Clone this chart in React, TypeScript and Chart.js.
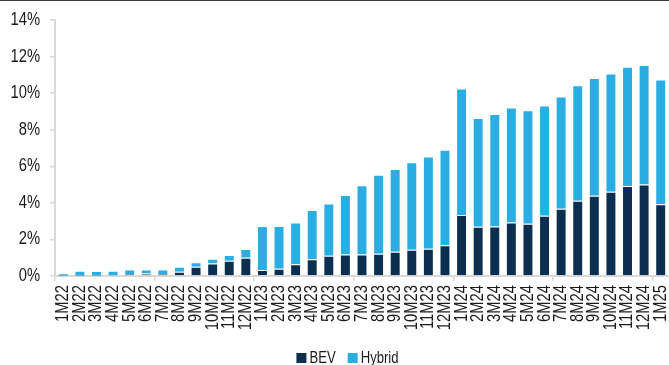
import { useEffect, useRef } from "react";
import { Chart, registerables } from "chart.js";

Chart.register(...registerables);

// Monthly share of new sales, in percent
const months = [
  "1M22", "2M22", "3M22", "4M22", "5M22", "6M22", "7M22", "8M22", "9M22", "10M22", "11M22", "12M22",
  "1M23", "2M23", "3M23", "4M23", "5M23", "6M23", "7M23", "8M23", "9M23", "10M23", "11M23", "12M23",
  "1M24", "2M24", "3M24", "4M24", "5M24", "6M24", "7M24", "8M24", "9M24", "10M24", "11M24", "12M24",
  "1M25",
];

const bevShare = [
  0.02, 0.02, 0.02, 0.03, 0.11, 0.13, 0.11, 0.23, 0.51, 0.69, 0.83, 1.0,
  0.33, 0.4, 0.64, 0.91, 1.11, 1.17, 1.17, 1.22, 1.33, 1.44, 1.49, 1.68,
  3.34, 2.7, 2.71, 2.92, 2.86, 3.3, 3.68, 4.12, 4.39, 4.61, 4.92, 5.01,
  3.92,
];

const hybridShare = [
  0.13, 0.27, 0.25, 0.26, 0.25, 0.23, 0.25, 0.28, 0.24, 0.26, 0.32, 0.48,
  2.4, 2.33, 2.28, 2.7, 2.86, 3.26, 3.79, 4.32, 4.52, 4.78, 5.05, 5.23,
  6.92, 5.94, 6.15, 6.3, 6.2, 6.03, 6.14, 6.31, 6.44, 6.46, 6.53, 6.53,
  6.82,
];

const seriesNames = ["BEV", "Hybrid"];
const seriesColors = ["#0c2e4f", "#2aade3"];

const yMin = 0;
const yMax = 14;
const yStep = 2;

const FONT = '"Liberation Sans", Arial, sans-serif';
const NARROW = 0.82; // horizontal squeeze that gives an Arial-Narrow look
const TEXT = "#1a1a1a";
const AXIS = "#d9d9d9";
const TICK_LEN = 5;
const Y_PAD = 10;
const X_PAD = 4;

// Thin dark rule along the top edge of the canvas
const topRule = {
  id: "topRule",
  afterDraw(chart: any) {
    const { ctx } = chart;
    ctx.save();
    ctx.fillStyle = "#3b3b3b";
    ctx.fillRect(0, 0, chart.width, 1);
    ctx.restore();
  },
};

// Condensed tick labels, placed from the chart's own scales
const narrowTicks = {
  id: "narrowTicks",
  afterDraw(chart: any) {
    const { ctx } = chart;
    const xs = chart.scales.x;
    const ys = chart.scales.y;
    ctx.save();
    ctx.fillStyle = TEXT;
    ctx.font = `18px ${FONT}`;
    ctx.textBaseline = "middle";
    ctx.textAlign = "right";

    ys.ticks.forEach((t: any) => {
      const y = ys.getPixelForValue(t.value);
      ctx.save();
      ctx.translate(ys.right - TICK_LEN - Y_PAD, y);
      ctx.scale(NARROW, 1);
      ctx.fillText(String(t.label), 0, 0);
      ctx.restore();
    });

    xs.ticks.forEach((t: any, i: number) => {
      const x = xs.getPixelForTick(i);
      ctx.save();
      ctx.translate(x, xs.top + TICK_LEN + X_PAD);
      ctx.rotate(-Math.PI / 2);
      ctx.scale(NARROW, 1);
      ctx.fillText(String(t.label), 0, 0);
      ctx.restore();
    });
    ctx.restore();
  },
};

// Bottom legend: square swatch, short gap, label
const bottomLegend = {
  id: "bottomLegend",
  afterDraw(chart: any) {
    const { ctx } = chart;
    const box = 10;
    const gap = 3;
    const spacing = 12;
    ctx.save();
    ctx.font = `16px ${FONT}`;
    const items = chart.data.datasets.map((ds: any) => ({
      text: ds.label as string,
      color: ds.backgroundColor as string,
      tw: ctx.measureText(ds.label).width * NARROW,
    }));
    const total =
      items.reduce((s: number, it: any) => s + box + gap + it.tw, 0) + spacing * (items.length - 1);
    let x = chart.width / 2 - total / 2;
    const boxTop = chart.scales.x.bottom + 21;
    ctx.textBaseline = "alphabetic";
    ctx.textAlign = "left";
    for (const it of items) {
      ctx.fillStyle = it.color;
      ctx.fillRect(x, boxTop, box, box);
      ctx.fillStyle = TEXT;
      ctx.save();
      ctx.translate(x + box + gap, boxTop + box);
      ctx.scale(NARROW, 1);
      ctx.fillText(it.text, 0, 0);
      ctx.restore();
      x += box + gap + it.tw + spacing;
    }
    ctx.restore();
  },
};

export default function App() {
  const canvasRef = useRef<HTMLCanvasElement>(null);

  useEffect(() => {
    const canvas = canvasRef.current;
    if (!canvas) return;
    Chart.defaults.font.family = FONT;

    const chart = new Chart(canvas, {
      type: "bar",
      data: {
        labels: months,
        datasets: [
          {
            label: seriesNames[0],
            data: bevShare,
            backgroundColor: seriesColors[0],
            borderColor: "rgba(255,255,255,0.3)",
            borderWidth: 1,
            barPercentage: 0.66,
            categoryPercentage: 1,
          },
          {
            label: seriesNames[1],
            data: hybridShare,
            backgroundColor: seriesColors[1],
            borderColor: "rgba(255,255,255,0.3)",
            borderWidth: 1,
            barPercentage: 0.66,
            categoryPercentage: 1,
          },
        ],
      },
      options: {
        responsive: false,
        devicePixelRatio: 1,
        animation: false,
        layout: { padding: { top: 20, right: 26, left: 0, bottom: 48 } },
        plugins: {
          legend: { display: false },
          tooltip: { enabled: false },
        },
        scales: {
          x: {
            stacked: true,
            afterFit: (scale: any) => {
              scale.height = 56;
            },
            grid: {
              drawOnChartArea: false,
              drawTicks: true,
              tickLength: TICK_LEN,
              lineWidth: 1.5,
              color: (c: any) => (c.index % 6 === 0 ? AXIS : "rgba(0,0,0,0)"),
            },
            border: { display: true, color: AXIS, width: 2 },
            ticks: {
              display: false,
              autoSkip: false,
              minRotation: 90,
              maxRotation: 90,
            },
          },
          y: {
            stacked: true,
            min: yMin,
            max: yMax,
            afterFit: (scale: any) => {
              scale.width = 55;
            },
            grid: {
              drawOnChartArea: false,
              drawTicks: true,
              tickLength: TICK_LEN,
              lineWidth: 1.5,
              color: AXIS,
            },
            border: { display: true, color: AXIS, width: 2 },
            ticks: {
              display: false,
              stepSize: yStep,
              callback: (v: any) => `${v}%`,
            },
          },
        },
      },
      plugins: [narrowTicks, bottomLegend, topRule],
    });

    return () => chart.destroy();
  }, []);

  return (
    <div
      style={{
        position: "fixed",
        left: 0,
        top: 0,
        width: 669,
        height: 365,
        overflow: "hidden",
        background: "#ffffff",
      }}
    >
      <canvas
        ref={canvasRef}
        width={695}
        height={380}
        style={{ position: "absolute", left: 0, top: 0, width: 695, height: 380 }}
      />
    </div>
  );
}
